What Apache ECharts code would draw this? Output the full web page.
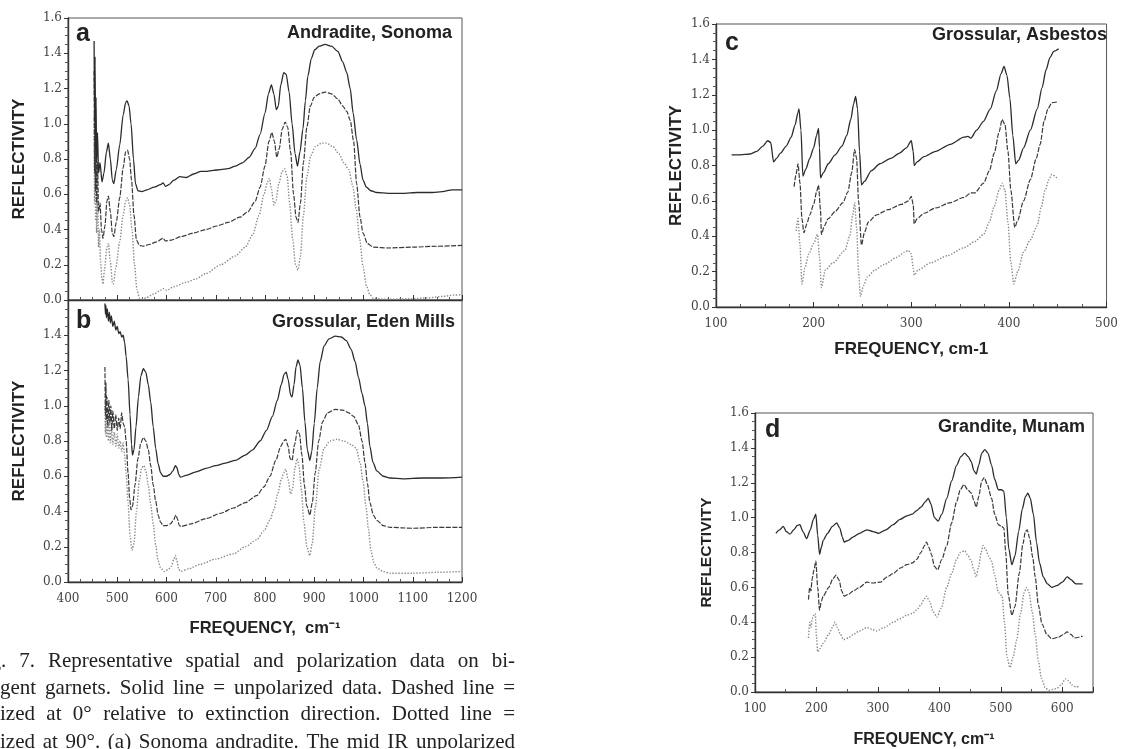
<!DOCTYPE html>
<html><head><meta charset="utf-8">
<script src="https://cdn.jsdelivr.net/npm/echarts@6/dist/echarts.min.js"></script>
<style>html,body{margin:0;padding:0;background:#fff}#c{width:1121px;height:749px}</style>
</head><body><div id="c"></div>
<script>
// ---------- Panel a: Andradite, Sonoma ----------
const aSolid = [[453,1.47],[454,1.02],[455,1.38],[456,0.85],[457,1.15],[458,0.78],[460,0.95],[462,0.72],[465,0.78],[469,0.67],[473,0.72],[478,0.84],[482,0.89],[486,0.80],[490,0.68],[493,0.66],[498,0.74],[505,0.88],[512,1.05],[517,1.12],[520,1.13],[524,1.10],[528,1.00],[533,0.80],[537,0.66],[542,0.62],[550,0.615],[560,0.625],[575,0.64],[588,0.655],[593,0.665],[598,0.645],[605,0.655],[615,0.68],[627,0.70],[640,0.695],[655,0.715],[670,0.73],[682,0.73],[695,0.735],[710,0.74],[725,0.745],[740,0.76],[755,0.78],[768,0.81],[780,0.86],[790,0.94],[800,1.06],[807,1.17],[813,1.22],[818,1.17],[823,1.08],[827,1.10],[832,1.22],[838,1.29],[843,1.28],[849,1.18],[855,1.00],[861,0.83],[866,0.76],[871,0.84],[877,0.97],[882,1.13],[887,1.27],[894,1.37],[901,1.42],[910,1.44],[922,1.45],[935,1.44],[948,1.41],[958,1.35],[966,1.29],[973,1.20],[979,1.06],[986,0.91],[993,0.77],[999,0.68],[1006,0.64],[1015,0.62],[1027,0.61],[1050,0.605],[1080,0.605],[1110,0.61],[1140,0.61],[1160,0.615],[1180,0.625],[1200,0.625]];
const aDash = [[453,1.30],[454,0.72],[455,1.12],[456,0.62],[457,0.95],[458,0.55],[460,0.78],[462,0.50],[465,0.55],[468,0.40],[471,0.35],[475,0.42],[479,0.56],[482,0.59],[486,0.50],[490,0.38],[493,0.36],[498,0.44],[505,0.58],[512,0.75],[517,0.84],[521,0.85],[525,0.80],[529,0.68],[534,0.48],[539,0.34],[545,0.31],[552,0.305],[565,0.315],[580,0.33],[593,0.35],[598,0.335],[610,0.34],[630,0.36],[654,0.38],[680,0.40],[702,0.42],[725,0.44],[749,0.47],[765,0.50],[780,0.56],[790,0.64],[800,0.76],[808,0.90],[814,0.95],[819,0.90],[824,0.81],[829,0.86],[835,0.97],[841,1.01],[846,0.98],[852,0.84],[858,0.60],[863,0.47],[867,0.44],[872,0.55],[878,0.78],[885,0.98],[892,1.10],[900,1.15],[910,1.17],[922,1.18],[935,1.17],[948,1.14],[958,1.10],[966,1.07],[973,1.02],[980,0.90],[986,0.66],[993,0.47],[999,0.38],[1008,0.32],[1020,0.30],[1050,0.295],[1100,0.30],[1150,0.305],[1200,0.31]];
const aDot = [[453,1.05],[454,0.55],[455,0.92],[456,0.45],[457,0.80],[458,0.38],[460,0.60],[462,0.30],[464,0.40],[466,0.22],[469,0.12],[471,0.09],[474,0.17],[479,0.30],[482,0.32],[486,0.22],[490,0.10],[492,0.09],[497,0.18],[505,0.33],[512,0.48],[517,0.56],[521,0.58],[525,0.54],[530,0.40],[535,0.20],[540,0.06],[545,0.01],[552,0.005],[560,0.015],[575,0.035],[588,0.055],[593,0.065],[600,0.055],[615,0.075],[640,0.10],[660,0.12],[680,0.15],[710,0.20],[740,0.25],[760,0.30],[775,0.37],[788,0.48],[798,0.60],[805,0.67],[809,0.69],[813,0.63],[818,0.54],[822,0.56],[828,0.66],[835,0.73],[840,0.745],[845,0.70],[850,0.55],[856,0.35],[862,0.20],[867,0.17],[872,0.25],[878,0.48],[885,0.70],[893,0.82],[902,0.87],[915,0.89],[925,0.89],[938,0.87],[950,0.83],[960,0.78],[970,0.74],[978,0.65],[985,0.52],[992,0.35],[999,0.19],[1006,0.08],[1013,0.03],[1020,0.01],[1040,0.005],[1070,0.005],[1100,0.008],[1130,0.012],[1160,0.02],[1185,0.028],[1200,0.03]];

// ---------- Panel b: Grossular, Eden Mills ----------
const bSolid = [[475,1.58],[476,1.52],[477,1.57],[478,1.50],[480,1.55],[482,1.48],[484,1.53],[486,1.47],[488,1.51],[491,1.45],[494,1.48],[497,1.43],[500,1.45],[503,1.41],[506,1.42],[509,1.39],[512,1.40],[515,1.36],[518,1.28],[522,1.15],[526,0.95],[529,0.78],[531,0.72],[534,0.75],[538,0.88],[543,1.05],[548,1.17],[553,1.21],[558,1.19],[563,1.12],[568,1.02],[573,0.88],[578,0.76],[583,0.67],[588,0.62],[593,0.60],[600,0.60],[607,0.61],[613,0.63],[618,0.66],[621,0.65],[625,0.61],[628,0.595],[640,0.605],[660,0.625],[680,0.645],[700,0.66],[720,0.675],[740,0.69],[760,0.72],[775,0.75],[790,0.80],[803,0.86],[815,0.94],[825,1.03],[833,1.12],[839,1.18],[843,1.19],[847,1.15],[852,1.06],[855,1.05],[859,1.12],[863,1.22],[867,1.26],[871,1.23],[876,1.10],[881,0.91],[886,0.75],[891,0.69],[895,0.74],[900,0.90],[906,1.10],[912,1.25],[920,1.34],[930,1.38],[943,1.395],[955,1.39],[965,1.37],[975,1.32],[983,1.25],[990,1.16],[997,1.07],[1003,1.00],[1008,0.90],[1013,0.77],[1019,0.68],[1027,0.63],[1040,0.60],[1054,0.59],[1080,0.585],[1120,0.59],[1160,0.59],[1200,0.595]];
const bDash = [[475,1.22],[476,0.95],[477,1.13],[478,0.92],[479,1.05],[481,0.88],[483,1.03],[485,0.90],[487,1.00],[489,0.86],[491,0.97],[494,0.87],[497,0.95],[500,0.86],[503,0.93],[506,0.87],[509,0.96],[512,0.90],[515,0.88],[518,0.80],[522,0.62],[525,0.48],[528,0.41],[531,0.43],[536,0.55],[542,0.70],[548,0.79],[553,0.82],[558,0.80],[563,0.75],[568,0.66],[573,0.55],[578,0.46],[583,0.38],[588,0.34],[593,0.32],[600,0.32],[608,0.33],[614,0.35],[619,0.38],[622,0.36],[626,0.32],[630,0.315],[650,0.33],[680,0.36],[710,0.39],[736,0.42],[760,0.45],[783,0.49],[798,0.54],[810,0.60],[822,0.69],[832,0.77],[838,0.80],[842,0.81],[847,0.77],[851,0.70],[855,0.69],[860,0.78],[866,0.86],[870,0.84],[875,0.72],[880,0.55],[885,0.43],[891,0.38],[896,0.45],[902,0.62],[909,0.80],[917,0.91],[927,0.96],[943,0.98],[958,0.975],[970,0.96],[980,0.94],[990,0.89],[997,0.80],[1003,0.68],[1008,0.56],[1013,0.45],[1020,0.38],[1027,0.35],[1040,0.32],[1054,0.31],[1100,0.305],[1150,0.31],[1200,0.31]];
const bDot = [[475,1.00],[476,0.84],[477,0.96],[478,0.82],[480,0.93],[482,0.80],[484,0.90],[486,0.79],[488,0.88],[491,0.78],[494,0.85],[497,0.77],[500,0.84],[503,0.76],[506,0.80],[509,0.74],[512,0.79],[515,0.72],[518,0.62],[522,0.45],[526,0.26],[530,0.18],[534,0.22],[539,0.40],[545,0.58],[550,0.65],[554,0.66],[558,0.63],[563,0.55],[568,0.44],[573,0.33],[578,0.21],[583,0.12],[588,0.08],[595,0.06],[603,0.07],[610,0.09],[615,0.13],[618,0.15],[621,0.12],[625,0.07],[629,0.06],[645,0.075],[668,0.10],[700,0.13],[736,0.16],[760,0.20],[783,0.24],[798,0.29],[810,0.35],[818,0.41],[826,0.50],[833,0.58],[838,0.62],[842,0.64],[847,0.58],[852,0.50],[856,0.53],[861,0.65],[865,0.70],[869,0.66],[874,0.52],[879,0.34],[885,0.20],[891,0.15],[896,0.22],[902,0.42],[910,0.64],[920,0.76],[932,0.80],[946,0.81],[960,0.80],[975,0.78],[985,0.76],[993,0.68],[999,0.57],[1005,0.43],[1010,0.30],[1015,0.18],[1021,0.11],[1027,0.08],[1040,0.06],[1054,0.05],[1100,0.05],[1150,0.055],[1200,0.06]];

// ---------- Panel c: Grossular, Asbestos ----------
const cSolid = [[116,0.86],[125,0.86],[135,0.865],[142,0.88],[148,0.91],[153,0.94],[156,0.93],[159,0.82],[162,0.84],[166,0.87],[172,0.91],[177,0.96],[181,1.03],[184,1.10],[185,1.12],[187,1.00],[189,0.74],[192,0.78],[196,0.84],[200,0.90],[203,0.97],[205,1.01],[206,0.90],[207,0.73],[210,0.76],[215,0.81],[222,0.86],[229,0.91],[234,0.97],[238,1.06],[241,1.15],[243,1.19],[245,1.12],[247,0.88],[249,0.69],[252,0.71],[259,0.77],[268,0.81],[279,0.84],[288,0.87],[295,0.90],[300,0.94],[302,0.88],[303,0.80],[306,0.82],[313,0.85],[325,0.88],[340,0.92],[354,0.96],[358,0.965],[361,0.955],[367,1.00],[374,1.05],[381,1.12],[387,1.22],[392,1.32],[395,1.36],[398,1.31],[401,1.18],[404,0.97],[407,0.81],[410,0.83],[415,0.90],[422,1.00],[429,1.12],[434,1.24],[438,1.34],[442,1.41],[446,1.445],[451,1.46]];
const cDash = [[180,0.68],[182,0.75],[184,0.81],[186,0.70],[188,0.50],[190,0.42],[193,0.47],[196,0.52],[200,0.58],[203,0.65],[205,0.69],[207,0.55],[208,0.41],[211,0.46],[215,0.50],[222,0.54],[230,0.59],[235,0.65],[239,0.76],[242,0.89],[244,0.84],[246,0.60],[249,0.35],[252,0.42],[256,0.48],[264,0.52],[276,0.55],[290,0.58],[297,0.60],[300,0.625],[302,0.58],[303,0.47],[306,0.50],[313,0.53],[325,0.56],[340,0.59],[354,0.62],[361,0.645],[365,0.645],[374,0.70],[380,0.77],[385,0.87],[390,0.99],[393,1.06],[396,1.03],[399,0.88],[402,0.66],[406,0.45],[409,0.49],[415,0.60],[422,0.72],[428,0.84],[432,0.92],[436,1.05],[440,1.12],[444,1.155],[450,1.16]];
const cDot = [[182,0.43],[184,0.50],[186,0.35],[188,0.13],[191,0.22],[195,0.30],[200,0.36],[204,0.41],[206,0.28],[208,0.11],[212,0.21],[220,0.25],[232,0.32],[237,0.40],[240,0.52],[242,0.59],[244,0.45],[246,0.20],[248,0.06],[251,0.12],[255,0.17],[263,0.21],[272,0.24],[285,0.28],[293,0.31],[297,0.32],[300,0.30],[302,0.22],[303,0.18],[307,0.21],[320,0.25],[337,0.29],[354,0.335],[365,0.37],[374,0.41],[380,0.48],[385,0.57],[390,0.66],[393,0.70],[396,0.66],[399,0.48],[402,0.25],[405,0.13],[409,0.20],[415,0.31],[422,0.38],[429,0.46],[433,0.56],[437,0.66],[441,0.72],[444,0.75],[449,0.73]];

// ---------- Panel d: Grandite, Munam ----------
const dSolid = [[134,0.91],[140,0.93],[146,0.95],[151,0.92],[157,0.905],[163,0.93],[169,0.955],[173,0.96],[178,0.92],[184,0.88],[190,0.93],[195,0.99],[199,1.02],[202,0.90],[205,0.79],[208,0.83],[211,0.87],[218,0.91],[226,0.95],[233,0.97],[238,0.94],[242,0.89],[245,0.86],[252,0.87],[260,0.89],[270,0.91],[282,0.93],[292,0.92],[301,0.91],[313,0.93],[325,0.96],[336,0.99],[347,1.01],[356,1.02],[363,1.04],[370,1.06],[377,1.09],[382,1.11],[386,1.08],[392,1.00],[398,0.98],[404,1.02],[412,1.11],[420,1.21],[428,1.30],[435,1.35],[441,1.37],[447,1.35],[452,1.32],[456,1.27],[460,1.25],[464,1.30],[469,1.37],[474,1.39],[479,1.37],[485,1.30],[490,1.22],[496,1.16],[501,1.16],[505,1.15],[509,1.00],[513,0.82],[518,0.73],[523,0.78],[529,0.92],[535,1.05],[540,1.12],[544,1.14],[548,1.11],[553,1.02],[558,0.86],[563,0.74],[569,0.66],[576,0.62],[583,0.60],[591,0.61],[600,0.63],[608,0.66],[614,0.645],[622,0.62],[633,0.62]];
const dDash = [[187,0.53],[189,0.60],[191,0.58],[193,0.65],[196,0.70],[199,0.75],[202,0.60],[205,0.47],[208,0.52],[211,0.55],[220,0.60],[227,0.65],[232,0.67],[237,0.64],[241,0.58],[245,0.55],[252,0.56],[260,0.58],[270,0.60],[282,0.63],[292,0.625],[304,0.63],[315,0.66],[325,0.68],[336,0.71],[347,0.73],[356,0.74],[363,0.76],[370,0.80],[376,0.84],[379,0.86],[383,0.83],[387,0.79],[392,0.72],[397,0.70],[404,0.76],[412,0.84],[420,0.97],[428,1.09],[434,1.16],[440,1.19],[446,1.16],[452,1.14],[456,1.10],[460,1.06],[464,1.12],[469,1.21],[473,1.23],[478,1.19],[485,1.11],[490,1.02],[496,0.96],[501,0.95],[505,0.94],[508,0.80],[512,0.56],[518,0.44],[523,0.49],[530,0.68],[536,0.85],[540,0.92],[543,0.93],[547,0.88],[552,0.77],[556,0.66],[561,0.50],[567,0.39],[575,0.33],[583,0.305],[594,0.315],[602,0.33],[608,0.345],[614,0.33],[620,0.31],[633,0.32]];
const dDot = [[187,0.31],[189,0.40],[191,0.37],[193,0.42],[196,0.44],[198,0.45],[200,0.32],[202,0.23],[206,0.25],[211,0.28],[220,0.33],[226,0.37],[230,0.40],[234,0.37],[239,0.33],[244,0.30],[252,0.31],[260,0.33],[270,0.35],[282,0.37],[290,0.36],[298,0.35],[310,0.37],[325,0.40],[336,0.42],[347,0.44],[356,0.45],[363,0.47],[370,0.50],[375,0.53],[379,0.55],[384,0.52],[390,0.46],[396,0.43],[403,0.48],[412,0.60],[420,0.68],[428,0.76],[434,0.80],[441,0.81],[447,0.78],[452,0.75],[456,0.70],[460,0.66],[464,0.72],[468,0.80],[471,0.84],[475,0.82],[480,0.78],[485,0.75],[490,0.67],[496,0.57],[502,0.55],[506,0.40],[510,0.20],[515,0.14],[520,0.20],[526,0.30],[532,0.45],[538,0.57],[542,0.60],[546,0.57],[551,0.46],[556,0.33],[561,0.18],[566,0.08],[572,0.025],[578,0.01],[585,0.015],[591,0.02],[598,0.04],[605,0.075],[610,0.065],[616,0.04],[622,0.03],[629,0.03]];

// ---------- Texts ----------
const panelLetters = ['a','b','c','d'];
const panelTitles = ['Andradite, Sonoma','Grossular, Eden Mills','Grossular, Asbestos','Grandite, Munam'];
const yAxisTitle = 'REFLECTIVITY';
const xAxisTitle = 'FREQUENCY,  cm\u207B\u00B9';
const xAxisTitleC = 'FREQUENCY, cm-1';
const xAxisTitleD = 'FREQUENCY, cm\u207B\u00B9';
const captionLines = [
  'Fig. 7.  Representative spatial and polarization data on bi-',
  'gent garnets. Solid line = unpolarized data. Dashed line =',
  'ized at 0\u00B0 relative to extinction direction. Dotted line =',
  'ized at 90\u00B0. (a) Sonoma andradite. The mid IR unpolarized'
];

const chart = echarts.init(document.getElementById('c'), null, {renderer:'canvas'});
const ink = '#333';
const tickFont = {fontFamily:'DejaVu Serif', fontSize:12, color:'#444'};
const sansBold = 'Liberation Sans';

function yAx(gi, showMax, nameGap, nameSize){
  return {type:'value', gridIndex:gi, min:0, max:1.6, interval:0.2,
    axisLine:{show:true, lineStyle:{color:ink, width:1.4}},
    axisTick:{show:true, inside:false, length:4, lineStyle:{color:ink}},
    minorTick:{show:true, splitNumber:4, length:3, lineStyle:{color:'#555'}},
    splitLine:{show:false},
    axisLabel:Object.assign({margin:6, showMaxLabel:showMax, formatter:v=>v.toFixed(1)}, tickFont),
    name:yAxisTitle, nameLocation:'middle', nameRotate:90, nameGap:nameGap,
    nameTextStyle:{fontFamily:sansBold, fontWeight:'bold', fontSize:nameSize, color:'#222'}};
}
function xAx(gi, min, max, split, showLabels, name, nameGap, nameSize){
  return {type:'value', gridIndex:gi, min:min, max:max, interval:100,
    axisLine:{show:true, onZero:false, lineStyle:{color:ink, width:1.4}},
    axisTick:{show:true, inside:true, length:5, lineStyle:{color:ink}},
    minorTick:{show:true, splitNumber:split, length:3, lineStyle:{color:'#555'}},
    splitLine:{show:false},
    axisLabel:Object.assign({show:showLabels, margin:11, showMaxLabel:(max%100===0), formatter:v=>String(v)}, tickFont),
    name:name||'', nameLocation:'middle', nameGap:nameGap||30,
    nameTextStyle:{fontFamily:sansBold, fontWeight:'bold', fontSize:nameSize||16, color:'#222'}};
}
const grids = [
  {left:68, top:18, width:394, height:282},
  {left:68, top:300, width:394, height:282},
  {left:716, top:24, width:394, height:283},
  {left:755, top:413, width:338, height:283}
].map(g=>Object.assign({show:true, borderColor:'#555', borderWidth:1, backgroundColor:'transparent'}, g));

const styles = {
  solid:{color:'#2b2b2b', width:1.3, type:'solid'},
  dash:{color:'#3a3a3a', width:1.2, type:[5,1.5]},
  dot:{color:'#8a8a8a', width:1.4, type:[1.4,1.6]}
};
function ser(data, gi, st){
  return {type:'line', xAxisIndex:gi, yAxisIndex:gi, data:data, showSymbol:false, symbol:'none',
    smooth:0.25, smoothMonotone:'x', lineStyle:styles[st], silent:true, animation:false, clip:true};
}
const series = [
  ser(aDot,0,'dot'), ser(aDash,0,'dash'), ser(aSolid,0,'solid'),
  ser(bDot,1,'dot'), ser(bDash,1,'dash'), ser(bSolid,1,'solid'),
  ser(cDot,2,'dot'), ser(cDash,2,'dash'), ser(cSolid,2,'solid'),
  ser(dDot,3,'dot'), ser(dDash,3,'dash'), ser(dSolid,3,'solid')
];

// panel letters and titles
const letterPos = [[76,36],[76,323],[725,45],[765,432]];
const titlePos = [[452,33],[455,322],[1107,35],[1085,427]];
const graphics = [];
panelLetters.forEach((t,i)=>{
  graphics.push({type:'text', left:letterPos[i][0], top:letterPos[i][1]-14, silent:true,
    style:{text:t, font:'bold 25px "Liberation Sans"', fill:'#222'}});
});
panelTitles.forEach((t,i)=>{
  graphics.push({type:'text', x:titlePos[i][0], y:titlePos[i][1], silent:true,
    style:{text:t, font:'bold 18px "Liberation Sans"', fill:'#222', align:'right', verticalAlign:'middle'}});
});
// caption, justified
const capFont = '21px "Liberation Serif"';
const meas = document.createElement('canvas').getContext('2d');
meas.font = capFont;
const capStart = [-27, 0, 0, 0];
const capEnd = 515;
const capY = [661, 688, 714, 742];
captionLines.forEach((line,i)=>{
  const words = line.split(/\s+/);
  const widths = words.map(w=>meas.measureText(w).width);
  const total = widths.reduce((s,w)=>s+w,0);
  const gap = (capEnd - capStart[i] - total)/(words.length-1);
  let x = capStart[i];
  words.forEach((w,k)=>{
    graphics.push({type:'text', x:x, y:capY[i], silent:true,
      style:{text:w, font:capFont, fill:'#222', verticalAlign:'middle'}});
    x += widths[k] + gap;
  });
});

chart.setOption({
  backgroundColor:'#fff',
  animation:false,
  grid:grids,
  xAxis:[
    xAx(0,400,1200,4,false),
    xAx(1,400,1200,4,true,xAxisTitle,38,16.5),
    xAx(2,100,500,4,true,xAxisTitleC,34,17),
    xAx(3,100,650,2,true,xAxisTitleD,40,16)
  ],
  yAxis:[yAx(0,true,40,17), yAx(1,false,40,17), yAx(2,true,31,17), yAx(3,true,40,15.5)],
  series:series,
  graphic:graphics
});
</script></body></html>
